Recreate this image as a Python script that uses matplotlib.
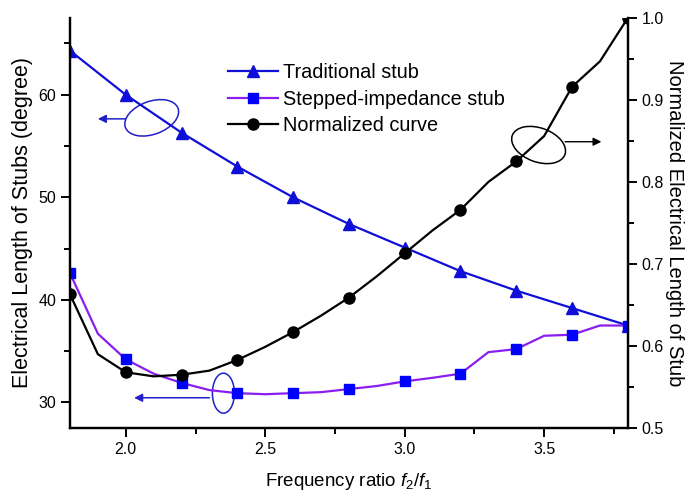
import matplotlib
matplotlib.use("Agg")
import matplotlib.pyplot as plt
from matplotlib.patches import Ellipse
from matplotlib.transforms import ScaledTranslation
from matplotlib.ticker import MultipleLocator

plt.rcParams['font.family'] = ['Liberation Sans', 'DejaVu Sans']
plt.rcParams['mathtext.fontset'] = 'custom'
plt.rcParams['mathtext.rm'] = 'Liberation Sans'
plt.rcParams['mathtext.it'] = 'Liberation Sans:italic'

# Traditional stub, every 0.2
x_trad = [1.8, 2.0, 2.2, 2.4, 2.6, 2.8, 3.0, 3.2, 3.4, 3.6, 3.8]
y_trad = [64.3, 60.0, 56.3, 53.0, 50.0, 47.4, 45.1, 42.8, 40.9, 39.2, 37.5]

# Stepped-impedance stub and normalized curve, every 0.1
x_fine = [1.8, 1.9, 2.0, 2.1, 2.2, 2.3, 2.4, 2.5, 2.6, 2.7, 2.8,
          2.9, 3.0, 3.1, 3.2, 3.3, 3.4, 3.5, 3.6, 3.7, 3.8]
y_step = [42.6, 36.7, 34.2, 32.8, 31.9, 31.2, 30.9, 30.8, 30.9, 31.0, 31.3,
          31.6, 32.05, 32.4, 32.8, 34.9, 35.2, 36.5, 36.6, 37.5, 37.5]
y_norm = [0.663, 0.590, 0.568, 0.563, 0.565, 0.570, 0.583, 0.599, 0.617, 0.637, 0.659,
          0.685, 0.713, 0.741, 0.766, 0.800, 0.825, 0.856, 0.916, 0.947, 1.0]

blue = '#0f0fd8'
purple = '#8a1ef0'

fig = plt.figure(figsize=(6.93, 4.96), dpi=100)
ax = fig.add_axes([0.101, 0.137, 0.805, 0.827])
ax2 = ax.twinx()

l1, = ax.plot(x_trad, y_trad, color=blue, lw=1.6, marker='^', ms=9,
              mfc=blue, mec=blue, label='Traditional stub')
l2, = ax.plot(x_fine, y_step, color=purple, lw=1.6, marker='s', ms=7,
              mfc='#0000ff', mec='#0000ff', markevery=2, label='Stepped-impedance stub')
l3, = ax2.plot(x_fine, y_norm, color='black', lw=1.6, marker='o', ms=8,
               markevery=2, label='Normalized curve')

ax.set_xlim(1.8, 3.8)
ax.set_ylim(27.5, 67.5)
ax2.set_ylim(0.5, 1.0)

ax.xaxis.set_major_locator(MultipleLocator(0.5))
ax.xaxis.set_minor_locator(MultipleLocator(0.25))
ax.yaxis.set_major_locator(MultipleLocator(10))
ax.yaxis.set_minor_locator(MultipleLocator(5))
ax2.yaxis.set_major_locator(MultipleLocator(0.1))
ax2.yaxis.set_minor_locator(MultipleLocator(0.05))
ax.xaxis.set_major_formatter(plt.FormatStrFormatter('%.1f'))
ax2.yaxis.set_major_formatter(plt.FormatStrFormatter('%.1f'))

for a in (ax, ax2):
    a.spines['top'].set_visible(False)
    for s in a.spines.values():
        s.set_linewidth(1.6)
    a.tick_params(which='major', direction='out', length=6.5, width=1.4, labelsize=11.5)
    a.tick_params(which='minor', direction='out', length=4, width=1.4)
ax.tick_params(axis='y', which='both', right=False)

ax.set_xlabel('Frequency ratio $f_2$/$f_1$', fontsize=13.5, labelpad=10)
ax.set_ylabel('Electrical Length of Stubs (degree)', fontsize=15.5, labelpad=4)
ax2.set_ylabel('Normalized Electrical Length of Stub', fontsize=14.5, rotation=270, labelpad=14)

ax.legend(handles=[l1, l2, l3], loc='upper left', bbox_to_anchor=(0.283, 0.89),
          frameon=False, fontsize=14.3, handlelength=2.5, handletextpad=0.3,
          labelspacing=0.38, borderpad=0, borderaxespad=0, numpoints=1)

# annotation ellipses with arrows
def ring(a, x, y, w, h, ang, color):
    tr = fig.dpi_scale_trans + ScaledTranslation(x, y, a.transData)
    e = Ellipse((0, 0), w, h, angle=ang, transform=tr, fill=False,
                edgecolor=color, lw=1.1, clip_on=False)
    a.add_patch(e)

ring(ax, 2.093, 57.75, 0.56, 0.33, 20, '#2020c8')
ax.annotate('', xy=(1.89, 57.65), xytext=(2.01, 57.65),
            arrowprops=dict(arrowstyle='-|>', color='#2020c8', lw=1.1, mutation_scale=12))
ring(ax, 2.35, 30.9, 0.22, 0.40, 0, '#2020c8')
ax.annotate('', xy=(2.02, 30.45), xytext=(2.31, 30.45),
            arrowprops=dict(arrowstyle='-|>', color='#2020c8', lw=1.1, mutation_scale=12))
ring(ax2, 3.48, 0.845, 0.56, 0.34, -20, 'black')
ax2.annotate('', xy=(3.715, 0.849), xytext=(3.565, 0.849),
             arrowprops=dict(arrowstyle='-|>', color='black', lw=1.0, mutation_scale=12))

fig.savefig('out.png', dpi=100)
